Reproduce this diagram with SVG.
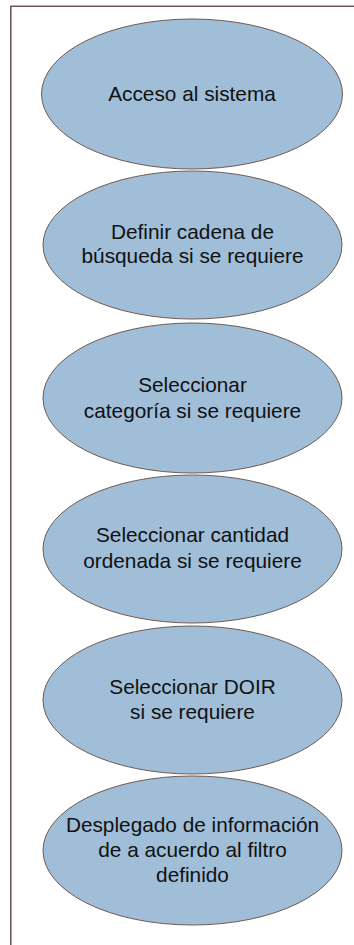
<svg xmlns="http://www.w3.org/2000/svg" width="354" height="945" viewBox="0 0 354 945">
<style>
.frame{fill:none;stroke:#6b5a53;stroke-width:1.6}
.node ellipse{fill:#a0bed8;stroke:#6e5a52;stroke-width:1}
.node text{font-family:"Liberation Sans",Arial,sans-serif;font-size:20.8px;fill:#111;text-anchor:middle}
</style>
<rect width="354" height="945" fill="#ffffff"/>
<path class="frame" d="M10.8,945 V6.3 H354"/>
<g id="connectors"></g>
<g id="n1" class="node">
<ellipse cx="192" cy="94" rx="150.5" ry="75"/>
<text x="192" y="101">Acceso al sistema</text>
</g>
<g id="n2" class="node">
<ellipse cx="192.5" cy="245" rx="149.5" ry="74"/>
<text x="192.5" y="239.3">Definir cadena de</text>
<text x="192.5" y="263.3">búsqueda si se requiere</text>
</g>
<g id="n3" class="node">
<ellipse cx="192.5" cy="398" rx="149.5" ry="75"/>
<text x="192.5" y="391.7">Seleccionar</text>
<text x="192.5" y="418.3">categoría si se requiere</text>
</g>
<g id="n4" class="node">
<ellipse cx="192.5" cy="549" rx="149.5" ry="74"/>
<text x="192.5" y="542.3">Seleccionar cantidad</text>
<text x="192.5" y="568.3">ordenada si se requiere</text>
</g>
<g id="n5" class="node">
<ellipse cx="192.5" cy="700" rx="149.5" ry="74"/>
<text x="192.5" y="694">Seleccionar DOIR</text>
<text x="192.5" y="719.3">si se requiere</text>
</g>
<g id="n6" class="node">
<ellipse cx="192.5" cy="850.5" rx="149.5" ry="74.5"/>
<text x="192.5" y="832.3">Desplegado de información</text>
<text x="192.5" y="856.5">de a acuerdo al filtro</text>
<text x="192.5" y="881.5">definido</text>
</g>
</svg>
